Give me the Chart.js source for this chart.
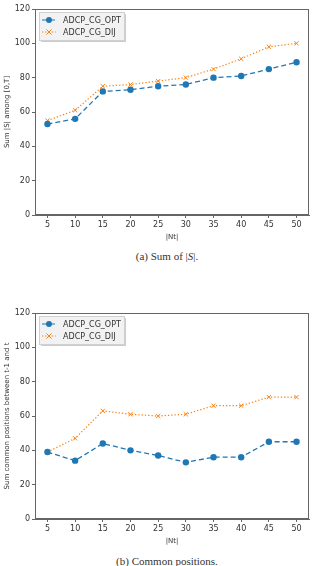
<!DOCTYPE html>
<html>
<head>
<meta charset="utf-8">
<script src="https://cdn.jsdelivr.net/npm/chart.js@4"></script>
<style>
  body { margin: 0; width: 314px; height: 566px; background: #fff; position: relative; overflow: hidden; }
  .box { position: absolute; left: 0; width: 314px; height: 245px; }
  .cap { position: absolute; left: 0; width: 334px; text-align: center; font-family: "Liberation Serif", serif; font-size: 11px; font-weight: normal; color: #333; }
</style>
</head>
<body>
<div class="box" style="top:0"><canvas id="c1" width="314" height="245"></canvas></div>
<div class="cap" style="top:250px">(a) Sum of |<i>S</i>|.</div>
<div class="box" style="top:304px"><canvas id="c2" width="314" height="245"></canvas></div>
<div class="cap" style="top:555px">(b) Common positions.</div>
<script>
const nt = [5, 10, 15, 20, 25, 30, 35, 40, 45, 50];
const yTicks = [0, 20, 40, 60, 80, 100, 120];

const sumOpt = [53, 56, 72, 73, 75, 76, 80, 81, 85, 89];
const sumDij = [55, 61, 75, 76, 78, 80, 85, 91, 98, 100];

const commonOpt = [39, 34, 44, 40, 37, 33, 36, 36, 45, 45];
const commonDij = [39, 47, 63, 61, 60, 61, 66, 66, 71, 71];

const blue = '#1f77b4';
const orange = '#ff7f0e';
const axisColor = '#666';
const tickFont = { family: 'DejaVu Sans', size: 8 };

// frame around the plot plus a matplotlib-like legend box
const framePlugin = {
  id: 'frame',
  afterDraw(chart) {
    const ctx = chart.ctx;
    const a = chart.chartArea;
    ctx.save();
    ctx.strokeStyle = axisColor;
    ctx.lineWidth = 1;
    ctx.strokeRect(a.left + 0.5, a.top + 0.5, a.right - a.left - 1, a.bottom - a.top - 1);

    // legend
    const lx = a.left + 4, ly = a.top + 3, lw = 85, lh = 28;
    ctx.fillStyle = 'rgba(0,0,0,0.2)';
    ctx.fillRect(lx + 2, ly + 2, lw, lh);
    ctx.fillStyle = '#f2f2f2';
    ctx.fillRect(lx, ly, lw, lh);
    ctx.strokeStyle = '#d0d0d0';
    ctx.strokeRect(lx + 0.5, ly + 0.5, lw, lh);
    ctx.font = '8px "DejaVu Sans"';
    ctx.textBaseline = 'middle';
    chart.data.datasets.forEach((ds, i) => {
      const y = ly + 8 + i * 12;
      ctx.strokeStyle = ds.borderColor;
      ctx.lineWidth = 1.2;
      ctx.setLineDash(ds.borderDash);
      ctx.beginPath();
      ctx.moveTo(lx + 3, y);
      ctx.lineTo(lx + 17, y);
      ctx.stroke();
      ctx.setLineDash([]);
      ctx.fillStyle = ds.pointBackgroundColor;
      ctx.strokeStyle = ds.pointBorderColor;
      if (ds.pointStyle === 'circle') {
        ctx.beginPath();
        ctx.arc(lx + 10, y, 3, 0, Math.PI * 2);
        ctx.fill();
      } else {
        ctx.lineWidth = 1;
        ctx.beginPath();
        ctx.moveTo(lx + 7.5, y - 2.5); ctx.lineTo(lx + 12.5, y + 2.5);
        ctx.moveTo(lx + 12.5, y - 2.5); ctx.lineTo(lx + 7.5, y + 2.5);
        ctx.stroke();
      }
      ctx.fillStyle = '#333';
      ctx.fillText(ds.label, lx + 24, y + 0.5);
    });
    ctx.restore();
  }
};

function makeChart(id, optVals, dijVals, yTitle) {
  return new Chart(document.getElementById(id), {
    type: 'line',
    data: {
      datasets: [
        {
          label: 'ADCP_CG_OPT',
          data: nt.map((x, i) => ({ x: x, y: optVals[i] })),
          borderColor: blue,
          borderWidth: 1.3,
          borderDash: [5, 3],
          pointStyle: 'circle',
          pointRadius: 3.2,
          pointBackgroundColor: blue,
          pointBorderColor: blue,
          pointBorderWidth: 0,
          tension: 0
        },
        {
          label: 'ADCP_CG_DIJ',
          data: nt.map((x, i) => ({ x: x, y: dijVals[i] })),
          borderColor: orange,
          borderWidth: 1.2,
          borderDash: [1.3, 2],
          pointStyle: 'crossRot',
          pointRadius: 3,
          pointBackgroundColor: orange,
          pointBorderColor: orange,
          pointBorderWidth: 1,
          tension: 0
        }
      ]
    },
    options: {
      responsive: false,
      animation: false,
      layout: { padding: { top: 9, right: 3, left: 0, bottom: 0 } },
      plugins: { legend: { display: false }, tooltip: { enabled: false } },
      scales: {
        x: {
          type: 'linear',
          min: 2.75,
          max: 52.25,
          afterBuildTicks: s => { s.ticks = nt.map(v => ({ value: v })); },
          afterFit: s => { s.height = 30; },
          grid: { display: true, drawOnChartArea: false, drawTicks: true, tickLength: 3, color: axisColor },
          border: { display: true, color: axisColor },
          ticks: { font: tickFont, color: '#333', padding: 2, maxRotation: 0 },
          title: { display: true, text: '|Nt|', font: { family: 'DejaVu Sans', size: 7 }, color: '#333', padding: { top: 0, bottom: 4 } }
        },
        y: {
          min: 0,
          max: 120,
          afterBuildTicks: s => { s.ticks = yTicks.map(v => ({ value: v })); },
          afterFit: s => { s.width = 35; },
          grid: { display: true, drawOnChartArea: false, drawTicks: true, tickLength: 3, color: axisColor },
          border: { display: true, color: axisColor },
          ticks: { font: tickFont, color: '#333', padding: 2 },
          title: { display: true, text: yTitle, font: { family: 'DejaVu Sans', size: 7 }, color: '#333', padding: { top: 3, bottom: 0 } }
        }
      }
    },
    plugins: [framePlugin]
  });
}

makeChart('c1', sumOpt, sumDij, 'Sum |S| among [0,T]');
makeChart('c2', commonOpt, commonDij, 'Sum common positions between t-1 and t');
</script>
</body>
</html>
